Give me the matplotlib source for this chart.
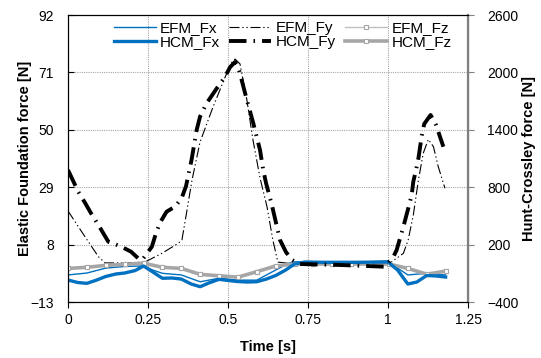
import matplotlib

matplotlib.use("Agg")

import matplotlib.pyplot as plt
from matplotlib.ticker import FixedLocator

plt.rcParams["font.family"] = ["Liberation Sans", "DejaVu Sans"]

# Fz series share a regular time grid (markers every ~0.059 s)
t_fz = [0.0, 0.059, 0.118, 0.177, 0.236, 0.295, 0.354, 0.413, 0.472, 0.531, 0.59,
        0.649, 0.708, 0.767, 0.826, 0.885, 0.944, 1.003, 1.062, 1.121, 1.18]
efm_fz = [-0.7, -0.3, 0.4, 0.8, 1.2, -0.3, -0.7, -2.9, -3.4, -3.9, -1.9,
          0.2, 0.9, 0.9, 0.9, 0.9, 0.9, 0.9, -0.7, -2.8, -1.7]
hcm_fz = [-49, -37, -17, -6, 6, -37, -49, -111, -126, -140, -83,
          -23, -3, -3, -3, -3, -3, -3, -49, -109, -77]

t_efm_fx = [0.0, 0.059, 0.118, 0.177, 0.236, 0.265, 0.295, 0.354, 0.413, 0.472, 0.531,
            0.59, 0.649, 0.69, 0.708, 0.8, 0.9, 1.0, 1.03, 1.062, 1.121, 1.18]
efm_fx = [-3.1, -2.4, -0.6, 0.0, 0.2, -1.3, -2.5, -3.1, -5.6, -4.3, -5.0,
          -5.0, -1.3, 1.2, 1.7, 1.6, 1.6, 2.0, -0.6, -3.1, -2.5, -3.1]

t_hcm_fx = [0.0, 0.03, 0.059, 0.09, 0.118, 0.15, 0.177, 0.21, 0.236, 0.265, 0.295,
            0.325, 0.354, 0.385, 0.413, 0.44, 0.472, 0.5, 0.531, 0.56, 0.59, 0.62,
            0.649, 0.68, 0.708, 0.74, 0.8, 0.9, 1.0, 1.03, 1.062, 1.09, 1.121, 1.15, 1.18]
hcm_fx = [-170, -196, -205, -170, -133, -107, -97, -71, -24, -86, -152,
          -149, -160, -212, -240, -201, -163, -175, -186, -191, -188, -160,
          -123, -66, -3, 18, 15, 15, 18, -66, -212, -191, -123, -128, -139]

t_efm_fy = [0.0, 0.053, 0.095, 0.116, 0.178, 0.24, 0.293, 0.345, 0.356, 0.372, 0.3875,
            0.4125, 0.453, 0.491, 0.5125, 0.522, 0.5375, 0.559, 0.578, 0.6, 0.622,
            0.64, 0.656, 0.7, 0.85, 1.006, 1.028, 1.048, 1.063, 1.079, 1.095, 1.11,
            1.126, 1.142, 1.157, 1.178]
efm_fy = [20.3, 10.9, 3.6, 1.3, 1.3, 1.6, 4.8, 8.5, 9.7, 20.7, 31.6,
          45.5, 58.3, 69.3, 74.8, 75.9, 74.1, 60.9, 46.3, 32.4, 21.8,
          9.7, 1.6, 1.0, 1.0, 1.2, 3.1, 4.8, 9.7, 18.8, 31.6, 41.4,
          46.5, 43.8, 36.5, 28.6]

t_hcm_fy = [0.0, 0.032, 0.053, 0.072, 0.095, 0.126, 0.1625, 0.197, 0.225, 0.234, 0.262,
            0.274, 0.2875, 0.308, 0.334, 0.355, 0.369, 0.376, 0.386, 0.402, 0.4125,
            0.433, 0.465, 0.491, 0.506, 0.522, 0.532, 0.559, 0.579, 0.6, 0.61, 0.619,
            0.637, 0.654, 0.6625, 0.681, 0.7, 0.725, 0.85, 0.99, 1.017, 1.027, 1.0375,
            1.048, 1.066, 1.074, 1.079, 1.0875, 1.095, 1.105, 1.113, 1.133, 1.15, 1.173]
hcm_fy = [980, 753, 638, 527, 405, 230, 185, 126, 39, 50, 178,
          308, 429, 544, 596, 684, 813, 928, 1084, 1398, 1537,
          1677, 1834, 1955, 2053, 2109, 2056, 1711, 1468, 1189, 980, 841,
          614, 370, 248, 123, 39, -3, -13, -31, 74, 144, 266,
          387, 614, 718, 858, 980, 1102, 1328, 1461, 1555, 1450, 1223]

x_ticks = [0, 0.25, 0.5, 0.75, 1.0, 1.25]
x_labels = ["0", "0.25", "0.5", "0.75", "1", "1.25"]
left_ticks = [-13, 8, 29, 50, 71, 92]
right_ticks = [-400, 200, 800, 1400, 2000, 2600]

BLUE = "#0070C0"

fig = plt.figure(figsize=(5.41, 3.58), dpi=100)
ax = fig.add_axes([0.1257, 0.1564, 0.7394, 0.8017])
ax2 = ax.twinx()

ax.plot(t_efm_fx, efm_fx, color=BLUE, lw=1.0, label="EFM_Fx")
ax.plot(t_efm_fy, efm_fy, color="black", lw=0.8, dashes=(9, 2.5, 1.2, 2.5, 1.2, 2.5),
        label="EFM_Fy")
ax.plot(t_fz, efm_fz, color="#BFBFBF", lw=1.0, marker="s", ms=3.5,
        mfc="white", mec="#A6A6A6", mew=0.8, label="EFM_Fz")

ax2.plot(t_fz, hcm_fz, color="#A6A6A6", lw=2.6, marker="s", ms=3.5,
         mfc="white", mec="#A6A6A6", mew=0.8, label="HCM_Fz")
ax2.plot(t_hcm_fx, hcm_fx, color=BLUE, lw=2.4, label="HCM_Fx")
ax2.plot(t_hcm_fy, hcm_fy, color="black", lw=2.8, dashes=(4.5, 1.8, 0.4, 1.8),
         label="HCM_Fy")

ax.set_xlim(0, 1.25)
ax.set_ylim(-13, 92)
ax2.set_ylim(-400, 2600)
ax.xaxis.set_major_locator(FixedLocator(x_ticks))
ax.set_xticklabels(x_labels)
ax.set_yticks(left_ticks)
ax2.set_yticks(right_ticks)

ax.grid(True, color="#A6A6A6", ls=(0, (1, 1)), lw=0.8)
ax.set_axisbelow(True)

ax.tick_params(axis="x", direction="out", length=4, labelsize=10, pad=4)
ax.tick_params(axis="y", direction="in", length=4, labelsize=10, pad=10)
ax2.tick_params(axis="y", direction="out", length=4, labelsize=10, color="#808080", pad=10)

for side in ["left", "bottom", "top"]:
    ax2.spines[side].set_color("black")
ax2.spines["right"].set_color("#808080")
ax2.spines["right"].set_linewidth(1.6)

ax.set_xlabel("Time [s]", fontsize=10.5, fontweight="bold", labelpad=9)
ax.set_ylabel("Elastic Foundation force [N]", fontsize=10.5, fontweight="bold", labelpad=-1)
ax2.set_ylabel("Hunt-Crossley force [N]", fontsize=10.5, fontweight="bold", labelpad=2)

h1, l1 = ax.get_legend_handles_labels()
h2, l2 = ax2.get_legend_handles_labels()
lookup = dict(zip(l1 + l2, h1 + h2))
order = ["EFM_Fx", "HCM_Fx", "EFM_Fy", "HCM_Fy", "EFM_Fz", "HCM_Fz"]
ax2.legend([lookup[k] for k in order], order, ncol=3, loc="upper center",
           bbox_to_anchor=(0.537, 1.01), frameon=False, fontsize=11,
           handlelength=2.75, handletextpad=0.3, columnspacing=0.6,
           labelspacing=0.0, borderaxespad=0.2)

fig.savefig("out.png", dpi=100)
